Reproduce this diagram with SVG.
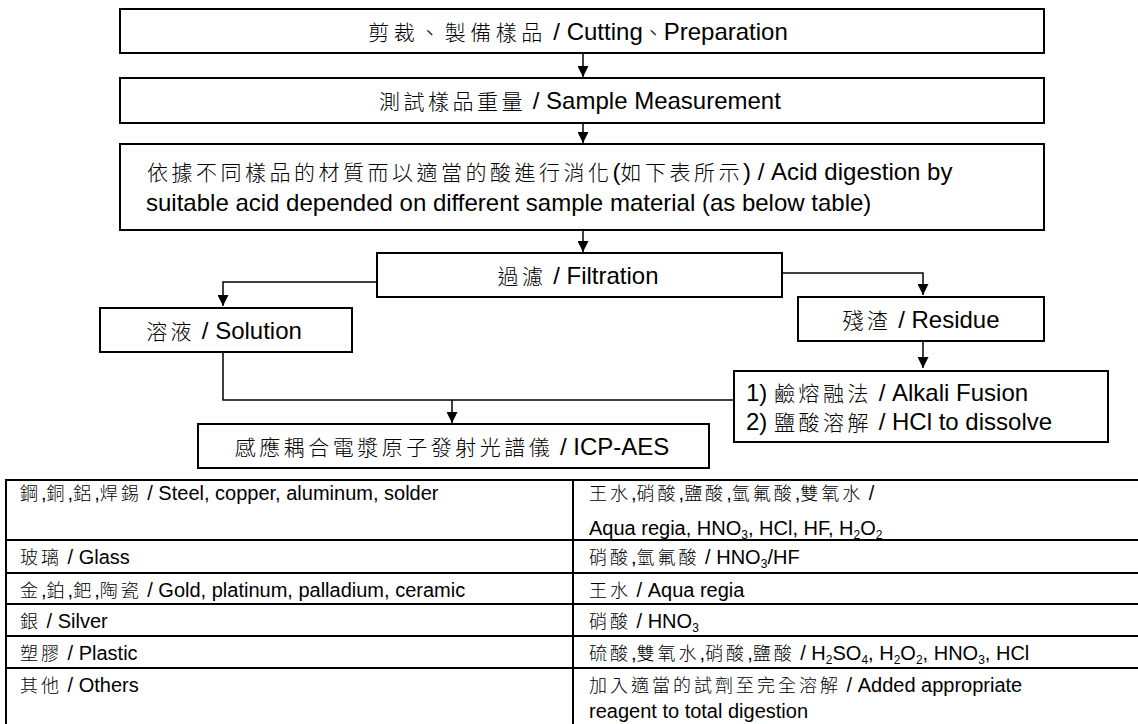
<svg xmlns="http://www.w3.org/2000/svg" width="1138" height="724" viewBox="0 0 1138 724">
<defs>
<style>
.box{fill:#fff;stroke:#000;stroke-width:2}
.ln{fill:none;stroke:#000;stroke-width:1.5}
.t{font-family:"Liberation Sans","Noto Sans CJK TC",Arial,sans-serif;font-size:24px;fill:#000}
.s{font-family:"Liberation Sans","Noto Sans CJK TC",Arial,sans-serif;font-size:20px;fill:#000}
.c{font-family:"Noto Sans CJK TC","Noto Sans CJK SC",sans-serif;font-weight:300;font-size:21px;letter-spacing:3.5px}
.c1{font-family:"Noto Sans CJK TC","Noto Sans CJK SC",sans-serif;font-weight:300;font-size:21px;letter-spacing:4.5px}
.cs{font-family:"Noto Sans CJK TC","Noto Sans CJK SC",sans-serif;font-weight:300;font-size:18px;letter-spacing:3px}
.sub{font-size:12px}
.grid{fill:none;stroke:#000;stroke-width:2}
</style>
<marker id="arr" markerUnits="userSpaceOnUse" markerWidth="12" markerHeight="11" refX="11" refY="5.5" orient="auto">
<path d="M0,0 L11,5.5 L0,11 z" fill="#000"/>
</marker>
</defs>
<rect width="1138" height="724" fill="#fff"/>

<g id="connectors">
<line class="ln" x1="583" y1="53" x2="583" y2="77" marker-end="url(#arr)"/>
<line class="ln" x1="583" y1="123" x2="583" y2="143" marker-end="url(#arr)"/>
<line class="ln" x1="583" y1="230" x2="583" y2="252" marker-end="url(#arr)"/>
<polyline class="ln" points="377,282 223,282 223,306" marker-end="url(#arr)"/>
<polyline class="ln" points="782,273 923,273 923,295" marker-end="url(#arr)"/>
<line class="ln" x1="923" y1="341" x2="923" y2="368" marker-end="url(#arr)"/>
<polyline class="ln" points="223,352 223,400 734,400"/>
<line class="ln" x1="452" y1="400" x2="452" y2="423" marker-end="url(#arr)"/>
</g>

<g id="n-cutting">
<rect class="box" x="120" y="9" width="924" height="44"/>
<text class="t" x="578" y="40" text-anchor="middle"><tspan class="c1">剪裁、製備樣品</tspan> / Cutting<tspan class="c" style="letter-spacing:0">、</tspan>Preparation</text>
</g>
<g id="n-measure">
<rect class="box" x="120" y="78" width="924" height="45"/>
<text class="t" x="580" y="109" text-anchor="middle"><tspan class="c">測試樣品重量</tspan> / Sample Measurement</text>
</g>
<g id="n-digest">
<rect class="box" x="120" y="144" width="924" height="86"/>
<text class="t" x="147" y="180"><tspan class="c">依據不同樣品的材質而以適當的酸進行消化</tspan>(<tspan class="c">如下表所示</tspan>) / Acid digestion by</text>
<text class="t" x="146" y="211">suitable acid depended on different sample material (as below table)</text>
</g>
<g id="n-filtration">
<rect class="box" x="377" y="253" width="405" height="44"/>
<text class="t" x="578" y="284" text-anchor="middle"><tspan class="c">過濾</tspan> / Filtration</text>
</g>
<g id="n-solution">
<rect class="box" x="100" y="308" width="252" height="44"/>
<text class="t" x="224" y="339" text-anchor="middle"><tspan class="c">溶液</tspan> / Solution</text>
</g>
<g id="n-residue">
<rect class="box" x="798" y="297" width="246" height="44"/>
<text class="t" x="921" y="328" text-anchor="middle"><tspan class="c">殘渣</tspan> / Residue</text>
</g>
<g id="n-alkali">
<rect class="box" x="734" y="371" width="374" height="71"/>
<text class="t" x="746" y="401">1) <tspan class="c">鹼熔融法</tspan> / Alkali Fusion</text>
<text class="t" x="746" y="430">2) <tspan class="c">鹽酸溶解</tspan> / HCl to dissolve</text>
</g>
<g id="n-icp">
<rect class="box" x="198" y="424" width="511" height="44"/>
<text class="t" x="452" y="455" text-anchor="middle"><tspan class="c">感應耦合電漿原子發射光譜儀</tspan> / ICP-AES</text>
</g>

<g id="table">
<polyline class="grid" points="6,726 6,480 1140,480"/>
<line class="grid" x1="573" y1="480" x2="573" y2="726"/>
<line class="grid" x1="6" y1="540" x2="1140" y2="540"/>
<line class="grid" x1="6" y1="573" x2="1140" y2="573"/>
<line class="grid" x1="6" y1="604" x2="1140" y2="604"/>
<line class="grid" x1="6" y1="636" x2="1140" y2="636"/>
<line class="grid" x1="6" y1="668" x2="1140" y2="668"/>

<text class="s" x="20" y="500"><tspan class="cs">鋼</tspan>,<tspan class="cs">銅</tspan>,<tspan class="cs">鋁</tspan>,<tspan class="cs">焊錫</tspan> / Steel, copper, aluminum, solder</text>
<text class="s" x="589" y="500"><tspan class="cs">王水</tspan>,<tspan class="cs">硝酸</tspan>,<tspan class="cs">鹽酸</tspan>,<tspan class="cs">氫氟酸</tspan>,<tspan class="cs">雙氧水</tspan> /</text>
<text class="s" x="589" y="535">Aqua regia, HNO<tspan class="sub" dy="4">3</tspan><tspan dy="-4">, HCl, HF, H</tspan><tspan class="sub" dy="4">2</tspan><tspan dy="-4">O</tspan><tspan class="sub" dy="4">2</tspan></text>

<text class="s" x="20" y="564"><tspan class="cs">玻璃</tspan> / Glass</text>
<text class="s" x="589" y="564"><tspan class="cs">硝酸</tspan>,<tspan class="cs">氫氟酸</tspan> / HNO<tspan class="sub" dy="4">3</tspan><tspan dy="-4">/HF</tspan></text>

<text class="s" x="20" y="597"><tspan class="cs">金</tspan>,<tspan class="cs">鉑</tspan>,<tspan class="cs">鈀</tspan>,<tspan class="cs">陶瓷</tspan> / Gold, platinum, palladium, ceramic</text>
<text class="s" x="589" y="597"><tspan class="cs">王水</tspan> / Aqua regia</text>

<text class="s" x="20" y="628"><tspan class="cs">銀</tspan> / Silver</text>
<text class="s" x="589" y="628"><tspan class="cs">硝酸</tspan> / HNO<tspan class="sub" dy="4">3</tspan></text>

<text class="s" x="20" y="660"><tspan class="cs">塑膠</tspan> / Plastic</text>
<text class="s" x="589" y="660"><tspan class="cs">硫酸</tspan>,<tspan class="cs">雙氧水</tspan>,<tspan class="cs">硝酸</tspan>,<tspan class="cs">鹽酸</tspan> / H<tspan class="sub" dy="4">2</tspan><tspan dy="-4">SO</tspan><tspan class="sub" dy="4">4</tspan><tspan dy="-4">, H</tspan><tspan class="sub" dy="4">2</tspan><tspan dy="-4">O</tspan><tspan class="sub" dy="4">2</tspan><tspan dy="-4">, HNO</tspan><tspan class="sub" dy="4">3</tspan><tspan dy="-4">, HCl</tspan></text>

<text class="s" x="20" y="692"><tspan class="cs">其他</tspan> / Others</text>
<text class="s" x="589" y="692"><tspan class="cs">加入適當的試劑至完全溶解</tspan> / Added appropriate</text>
<text class="s" x="589" y="718">reagent to total digestion</text>
</g>
</svg>
